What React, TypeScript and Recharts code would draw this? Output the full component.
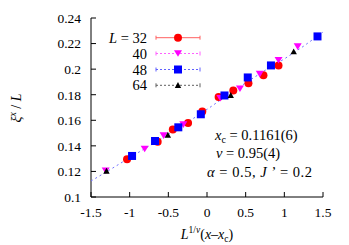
import React from 'react';
import { ComposedChart, Scatter, XAxis, YAxis } from 'recharts';

const xTicks = [-1.5, -1, -0.5, 0, 0.5, 1, 1.5];
const yTicks = [0.1, 0.12, 0.14, 0.16, 0.18, 0.2, 0.22, 0.24];

const l32X = [-1.034, -0.638, -0.442, -0.245, -0.061, 0.15, 0.34, 0.536, 0.73, 0.925];
const l32Y = [0.1295, 0.1433, 0.1528, 0.1579, 0.1669, 0.1782, 0.1832, 0.189, 0.1953, 0.2029];

const l40X = [-1.31, -0.806, -0.561, -0.306, 0.172, 0.426, 0.682, 0.925, 1.173];
const l40Y = [0.1205, 0.1376, 0.148, 0.1566, 0.1772, 0.1847, 0.1961, 0.207, 0.2176];

const l48X = [-0.969, -0.672, -0.371, -0.08, 0.226, 0.527, 0.827, 1.429];
const l48Y = [0.1321, 0.1438, 0.1545, 0.1647, 0.1794, 0.1935, 0.2029, 0.2256];

const l64X = [-1.3, -0.506, 0.307, 1.121];
const l64Y = [0.1203, 0.1485, 0.1796, 0.2137];

const fitX = [-1.5, -1.25, -1, -0.75, -0.5, -0.25, 0, 0.25, 0.5, 0.75, 1, 1.25, 1.5];
const fitY = [0.1125, 0.1215, 0.1308, 0.1398, 0.149, 0.1585, 0.1685, 0.179, 0.1893, 0.199, 0.208, 0.218, 0.229];

const legendLabels = ['32', '40', '48', '64'];

const zip = (xs: number[], ys: number[]) => xs.map((x, i) => ({ x, y: ys[i] }));
const d32 = zip(l32X, l32Y);
const d40 = zip(l40X, l40Y);
const d48 = zip(l48X, l48Y);
const d64 = zip(l64X, l64Y);
const dFit = zip(fitX, fitY);

const FONT = 'Liberation Serif, Times New Roman, serif';
const tickStyle = { fill: '#000', fontSize: 13.5, fontFamily: FONT };

const circleShape = (p: any) => <circle cx={p.cx} cy={p.cy} r={4} fill="#ff0000" />;
const downTriShape = (p: any) => (
  <path d={`M${p.cx - 4},${p.cy - 3.3} L${p.cx + 4},${p.cy - 3.3} L${p.cx},${p.cy + 3.3} Z`} fill="#ff00ff" />
);
const squareShape = (p: any) => <rect x={p.cx - 4} y={p.cy - 4} width={8} height={8} fill="#0000ff" />;
const upTriShape = (p: any) => (
  <path d={`M${p.cx - 3.2},${p.cy + 2.7} L${p.cx + 3.2},${p.cy + 2.7} L${p.cx},${p.cy - 3.2} Z`} fill="#000000" />
);
const noShape = () => <g />;

const legendStyles = [
  { stroke: '#ff6060', dash: undefined as string | undefined, marker: 'circle' },
  { stroke: '#ff60ff', dash: '2 2', marker: 'down' },
  { stroke: '#6060ff', dash: '2 2', marker: 'square' },
  { stroke: '#606060', dash: '2 2', marker: 'up' },
];

function LegendMarker({ kind, cx, cy }: { kind: string; cx: number; cy: number }) {
  if (kind === 'circle') return circleShape({ cx, cy });
  if (kind === 'down') return downTriShape({ cx, cy });
  if (kind === 'square') return squareShape({ cx, cy });
  return upTriShape({ cx, cy });
}

export default function App() {
  const rowY = [37.7, 53.5, 69.5, 85.3];
  return (
    <div style={{ position: 'absolute', left: 0, top: 0, width: 349, height: 245, background: '#fff' }}>
      <ComposedChart width={349} height={245} margin={{ top: 18, right: 26, bottom: 0, left: 0 }}>
        <XAxis
          xAxisId="b"
          type="number"
          dataKey="x"
          domain={[-1.5, 1.5]}
          ticks={xTicks}
          interval={0}
          height={48}
          tickSize={-5}
          tickMargin={15}
          stroke="#000"
          tick={tickStyle}
          allowDataOverflow
        />
        <XAxis
          xAxisId="t"
          orientation="top"
          type="number"
          dataKey="x"
          domain={[-1.5, 1.5]}
          ticks={xTicks}
          interval={0}
          height={0}
          mirror
          tickSize={5}
          tickFormatter={() => ''}
          stroke="#000"
          allowDataOverflow
        />
        <YAxis
          yAxisId="l"
          type="number"
          dataKey="y"
          domain={[0.1, 0.24]}
          ticks={yTicks}
          interval={0}
          width={91}
          tickSize={-5}
          tickMargin={15}
          stroke="#000"
          tick={tickStyle}
          tickFormatter={(v: number) => String(+v.toFixed(2))}
          allowDataOverflow
        />
        <YAxis
          yAxisId="r"
          orientation="right"
          type="number"
          dataKey="y"
          domain={[0.1, 0.24]}
          ticks={yTicks}
          interval={0}
          width={0}
          mirror
          tickSize={5}
          tickFormatter={() => ''}
          stroke="#000"
          allowDataOverflow
        />
        <Scatter
          xAxisId="b"
          yAxisId="l"
          data={dFit}
          fill="#7070ff"
          line={{ stroke: '#7070ff', strokeWidth: 1, strokeDasharray: '2 3' }}
          shape={noShape}
          isAnimationActive={false}
        />
        <Scatter xAxisId="b" yAxisId="l" data={d32} fill="#ff0000" shape={circleShape} isAnimationActive={false} />
        <Scatter xAxisId="b" yAxisId="l" data={d40} fill="#ff00ff" shape={downTriShape} isAnimationActive={false} />
        <Scatter xAxisId="b" yAxisId="l" data={d48} fill="#0000ff" shape={squareShape} isAnimationActive={false} />
        <Scatter xAxisId="b" yAxisId="l" data={d64} fill="#000000" shape={upTriShape} isAnimationActive={false} />
      </ComposedChart>
      <svg
        width={349}
        height={245}
        style={{ position: 'absolute', left: 0, top: 0, pointerEvents: 'none' }}
        fontFamily={FONT}
        fontSize={14.5}
      >
        {legendLabels.map((lab, i) => (
          <g key={lab}>
            <text x={147} y={rowY[i] + 5} textAnchor="end" fill="#000">
              {i === 0 ? (
                <>
                  <tspan fontStyle="italic">L</tspan>
                  <tspan> = {lab}</tspan>
                </>
              ) : (
                lab
              )}
            </text>
            <line
              x1={156}
              x2={200}
              y1={rowY[i]}
              y2={rowY[i]}
              stroke={legendStyles[i].stroke}
              strokeDasharray={legendStyles[i].dash}
            />
            <line x1={156} x2={156} y1={rowY[i] - 2} y2={rowY[i] + 2} stroke={legendStyles[i].stroke} />
            <line x1={200} x2={200} y1={rowY[i] - 2} y2={rowY[i] + 2} stroke={legendStyles[i].stroke} />
            <LegendMarker kind={legendStyles[i].marker} cx={178} cy={rowY[i]} />
          </g>
        ))}
        <text x={215} y={140} fill="#000">
          <tspan fontStyle="italic">x</tspan>
          <tspan fontSize={10} dy={3}>c</tspan>
          <tspan dy={-3}> = 0.1161(6)</tspan>
        </text>
        <text x={216} y={158} fill="#000">
          <tspan fontStyle="italic">ν</tspan>
          <tspan> = 0.95(4)</tspan>
        </text>
        <text x={207} y={176.5} fill="#000" textLength={105} lengthAdjust="spacing">
          <tspan fontStyle="italic">α</tspan>
          <tspan> = 0.5, </tspan>
          <tspan fontStyle="italic">J</tspan>
          <tspan> ’ = 0.2</tspan>
        </text>
        <text x={207} y={239} textAnchor="middle" fill="#000" fontSize={14}>
          <tspan fontStyle="italic">L</tspan>
          <tspan fontSize={9.5} dy={-6}>1/</tspan>
          <tspan fontSize={9.5} fontStyle="italic">ν</tspan>
          <tspan dy={6}>(</tspan>
          <tspan fontStyle="italic">x</tspan>
          <tspan>–</tspan>
          <tspan fontStyle="italic">x</tspan>
          <tspan fontSize={9.5} dy={3}>c</tspan>
          <tspan dy={-3}>)</tspan>
        </text>
        <text transform="rotate(-90 21 108)" x={21} y={108} textAnchor="middle" fill="#000" fontSize={14}>
          <tspan fontStyle="italic">ξ</tspan>
          <tspan fontSize={9.5} dy={-5} fontStyle="italic">x</tspan>
          <tspan dy={5}> / </tspan>
          <tspan fontStyle="italic">L</tspan>
        </text>
      </svg>
    </div>
  );
}
